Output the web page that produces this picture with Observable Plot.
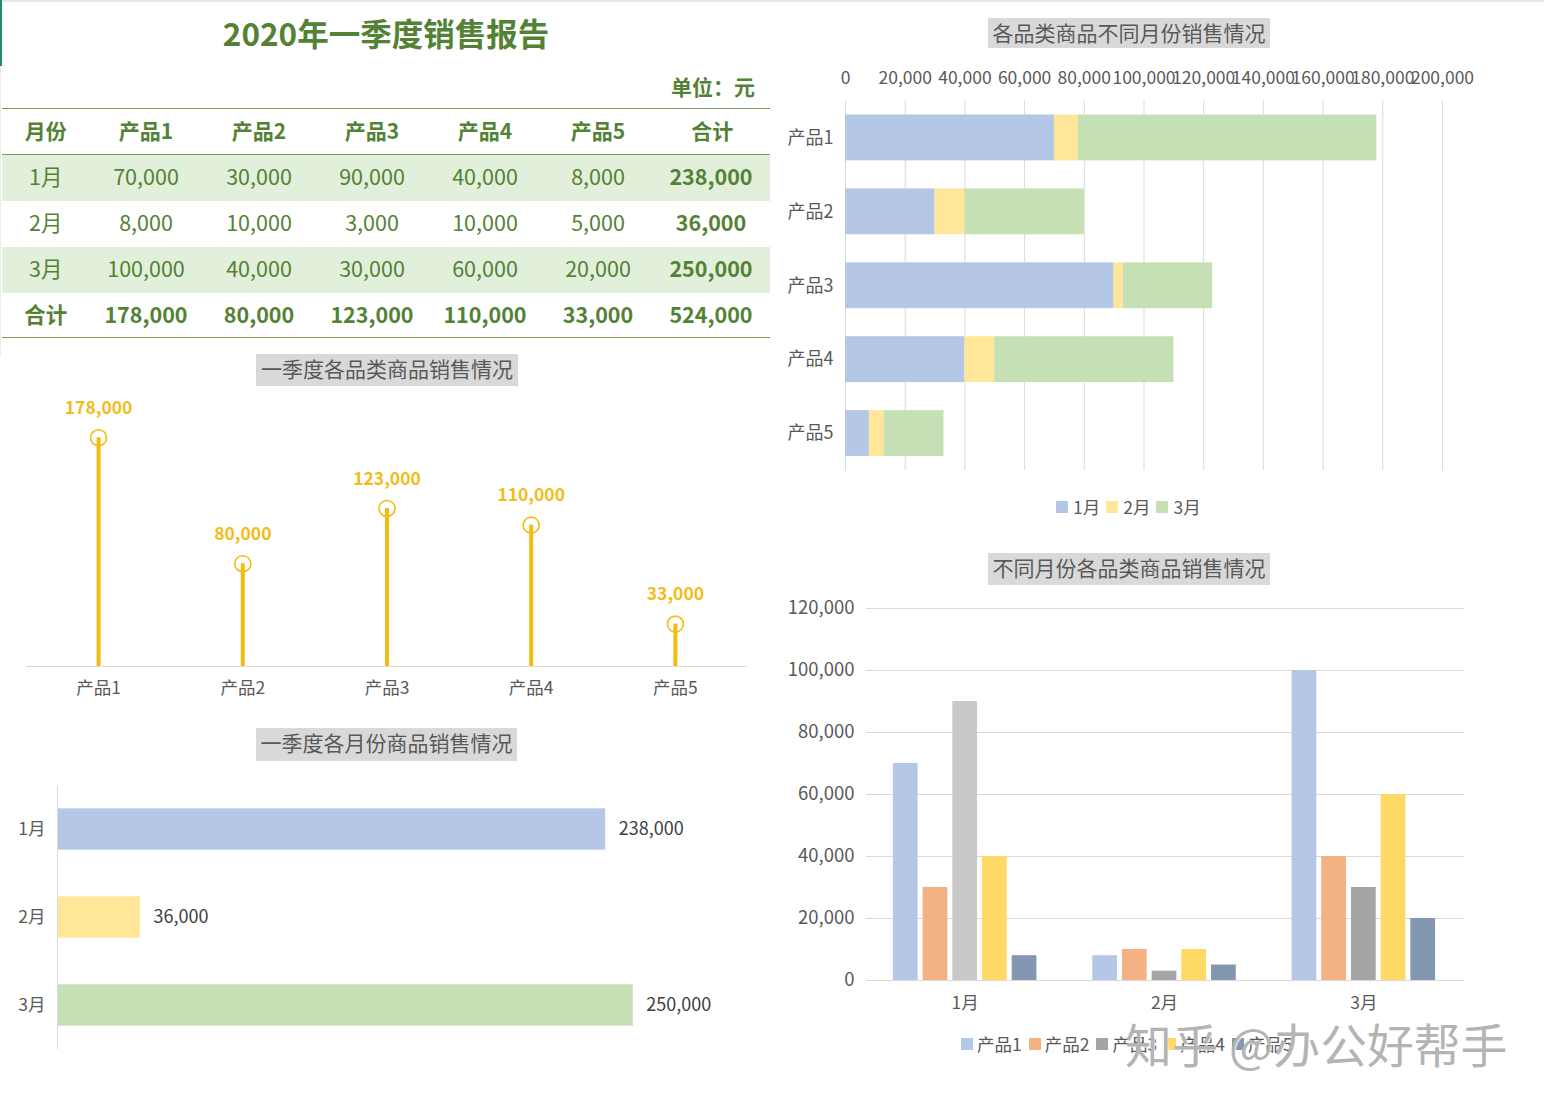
<!DOCTYPE html>
<html lang="zh">
<head>
<meta charset="utf-8">
<script src="https://cdn.jsdelivr.net/npm/d3@7"></script>
<script src="https://cdn.jsdelivr.net/npm/@observablehq/plot@0.6"></script>
<style>
html,body{margin:0;padding:0;background:#fff}
body{width:1544px;height:1108px;position:relative;overflow:hidden;font-family:"Noto Sans CJK SC","Noto Sans",sans-serif;}
.abs{position:absolute}
.ctitle{position:absolute;background:#d9d9d9;color:#595959;font-size:21px;line-height:28px;height:32px;text-align:center;white-space:nowrap}
table{position:absolute;left:2px;top:108px;width:768px;border-collapse:collapse;table-layout:fixed;color:#548235;font-size:21.5px}
th,td{padding:0;text-align:center;font-weight:400;vertical-align:top}
th{height:45px;line-height:42px;font-weight:700;font-size:21px}
td{height:46px;line-height:41px}
tbody tr:last-child td{height:44px}
tr.band td{background:#e2efda}
td.b{font-weight:700}
td:last-child{padding-right:2.5px}
thead tr{border-top:1px solid #7f9a65;border-bottom:1px solid #7f9a65}
tbody tr:last-child{border-bottom:1px solid #7f9a65}
.legend{position:absolute;display:flex;align-items:center;color:#595959;font-size:17.5px;white-space:nowrap}
.legend span.sw{display:inline-block;width:12px;height:12px;margin-right:4px}
.legend span.it{display:inline-flex;align-items:center}
#legC span.sw{margin-right:5px}
</style>
</head>
<body>
<div class="abs" style="left:0;top:0;width:1544px;height:2px;background:#e4e4e4"></div>
<div class="abs" style="left:0;top:0;width:2px;height:66px;background:#1d8f5f"></div>
<div class="abs" style="left:0;top:66px;width:1px;height:290px;background:#ececec"></div>
<div class="abs" style="left:2px;width:768px;top:8px;text-align:center;font-size:31.5px;line-height:48px;font-weight:700;color:#548235">2020年一季度销售报告</div>
<div class="abs" style="right:789px;top:70px;font-size:21px;line-height:32px;font-weight:700;color:#548235">单位：元</div>
<div id="tbl"></div>
<div class="ctitle" style="left:256px;top:354px;width:262px">一季度各品类商品销售情况</div>
<div class="ctitle" style="left:256px;top:728px;width:261px;height:33px">一季度各月份商品销售情况</div>
<div class="ctitle" style="left:988px;top:18px;width:282px;height:30px">各品类商品不同月份销售情况</div>
<div class="ctitle" style="left:988px;top:553px;width:282px">不同月份各品类商品销售情况</div>
<div id="charts"></div>
<div id="legC" class="legend" style="left:1056px;top:494px;gap:6px"></div>
<div id="legD" class="legend" style="left:961px;top:1031px;gap:7px"></div>
<div class="abs" style="left:1125px;top:1009px;font-size:46.8px;line-height:68px;color:#b4b4b4;white-space:nowrap;text-shadow:1px 1px 0 rgba(255,255,255,.75)">知乎 @办公好帮手</div>

<script>
const products = ["产品1","产品2","产品3","产品4","产品5"];
const months = ["1月","2月","3月"];
const jan = [70000,30000,90000,40000,8000];
const feb = [8000,10000,3000,10000,5000];
const mar = [100000,40000,30000,60000,20000];
const productTotals = [178000,80000,123000,110000,33000];
const monthTotals = [238000,36000,250000];
const grandTotal = 524000;
const monthColors = ["#b4c7e7","#ffe699","#c5e0b4"];
const productColors = ["#b4c7e7","#f4b183","#a5a5a5","#ffd966","#8497b0"];
const janProduct3Color = "#c9c9c9";
const stackTicks = [0,20000,40000,60000,80000,100000,120000,140000,160000,180000,200000];
const columnTicks = [0,20000,40000,60000,80000,100000,120000];

const fmt = d3.format(",");
const byMonth = [jan,feb,mar];
const long = months.flatMap((m,i)=>products.map((p,j)=>({month:m,product:p,value:byMonth[i][j]})));
const font = '"Noto Sans CJK SC","Noto Sans",sans-serif';
const style = (left,top,fontSize,color="#595959")=>({position:"absolute",left:left+"px",top:top+"px",fontFamily:font,fontSize:fontSize+"px",color,background:"transparent",overflow:"visible"});
const grid = "#d9d9d9";

// table
const tbl = d3.select("#tbl").append("table");
const cg = tbl.append("colgroup");
cg.append("col").style("width","87.5px");
for(let i=0;i<5;i++) cg.append("col").style("width","113px");
cg.append("col").style("width","115.5px");
tbl.append("thead").append("tr").selectAll("th").data(["月份",...products,"合计"]).join("th").text(d=>d);
const tb = tbl.append("tbody");
months.forEach((m,i)=>{
  const tr = tb.append("tr").classed("band",i%2===0);
  tr.append("td").text(m);
  byMonth[i].forEach(v=>tr.append("td").text(fmt(v)));
  tr.append("td").attr("class","b").text(fmt(monthTotals[i]));
});
const trT = tb.append("tr");
trT.append("td").attr("class","b").text("合计");
productTotals.forEach(v=>trT.append("td").attr("class","b").text(fmt(v)));
trT.append("td").attr("class","b").text(fmt(grandTotal));

const host = document.getElementById("charts");
const totalsRows = products.map((p,i)=>({product:p,value:productTotals[i]}));
const monthRows = months.map((m,i)=>({month:m,value:monthTotals[i]}));

// lollipop
host.append(Plot.plot({
  style:style(0,380,17.5),
  width:770,height:340,marginTop:29,marginBottom:54,marginLeft:26,marginRight:23,
  x:{type:"band",domain:products,padding:0,round:false,label:null},
  y:{domain:[0,200000],axis:null},
  marks:[
    Plot.ruleY([0],{stroke:grid}),
    Plot.ruleX(totalsRows,{x:"product",y:"value",stroke:"#f4bb12",strokeWidth:4}),
    Plot.dot(totalsRows,{x:"product",y:"value",r:8,stroke:"#f4bb12",strokeWidth:1.6,fill:"none"}),
    Plot.text(totalsRows,{x:"product",y:"value",text:d=>fmt(d.value),dy:-29.5,fill:"#f2bc17",fontWeight:700,fontSize:17.5}),
    Plot.axisX({tickSize:0,tickPadding:15,label:null,fontSize:17.5})
  ]
}));

// month bars
host.append(Plot.plot({
  style:style(0,770,17.5),
  width:770,height:300,marginTop:15,marginBottom:21,marginLeft:57,marginRight:22,
  x:{domain:[0,300000],axis:null},
  y:{domain:months,paddingInner:0.53,paddingOuter:0.265,round:false,label:null},
  color:{domain:months,range:monthColors},
  marks:[
    Plot.barX(monthRows,{x:"value",y:"month",fill:"month"}),
    Plot.ruleX([0],{stroke:grid}),
    Plot.text(monthRows,{x:"value",y:"month",text:d=>fmt(d.value),textAnchor:"start",dx:13,fill:"#404040",fontSize:18}),
    Plot.axisY({tickSize:0,tickPadding:12,label:null})
  ]
}));

// stacked bars
host.append(Plot.plot({
  style:style(780,60,17.5),
  width:764,height:420,marginTop:40.5,marginBottom:10,marginLeft:65,marginRight:102,
  x:{domain:[0,200000],label:null},
  y:{domain:products,paddingInner:0.38,paddingOuter:0.19,round:false,label:null},
  color:{domain:months,range:monthColors},
  marks:[
    Plot.ruleX(stackTicks,{stroke:grid}),
    Plot.barX(long,{x:"value",y:"product",fill:"month"}),
    Plot.axisX({anchor:"top",ticks:stackTicks,tickFormat:fmt,tickSize:0,tickPadding:17,label:null}),
    Plot.axisY({tickSize:0,tickPadding:12,label:null,fontSize:18})
  ]
}));

// grouped columns: value axis and grid underneath, faceted bars on top, same frame
const frameD = {width:764,height:430,marginTop:18,marginBottom:40,marginLeft:86,marginRight:80};
host.append(Plot.plot({
  ...frameD,
  style:style(780,590,18.5),
  y:{domain:[0,120000],label:null},
  marks:[
    Plot.ruleY(columnTicks,{stroke:grid}),
    Plot.axisY({ticks:columnTicks,tickFormat:fmt,tickSize:0,tickPadding:12,label:null})
  ]
}));
host.append(Plot.plot({
  ...frameD,
  style:style(779,590,17.5),
  fx:{domain:months,paddingInner:0.28,paddingOuter:0.14,round:false,label:null},
  x:{domain:products,paddingInner:0.167,paddingOuter:0,round:false,axis:null},
  y:{domain:[0,120000],axis:null},
  marks:[
    Plot.barY(long,{fx:"month",x:"product",y:"value",
      fill:d=>d.month===months[0]&&d.product===products[2]?janProduct3Color:productColors[products.indexOf(d.product)]}),
    Plot.axisFx({anchor:"bottom",tickSize:0,tickPadding:16,label:null})
  ]
}));

// legends
function legend(id,names,colors){
  const items = d3.select(id).selectAll("span.it").data(names).join("span").attr("class","it");
  items.append("span").attr("class","sw").style("background",(d,i)=>colors[i]);
  items.append("span").text(d=>d);
}
legend("#legC",months,monthColors);
legend("#legD",products,productColors);
</script>
</body>
</html>
